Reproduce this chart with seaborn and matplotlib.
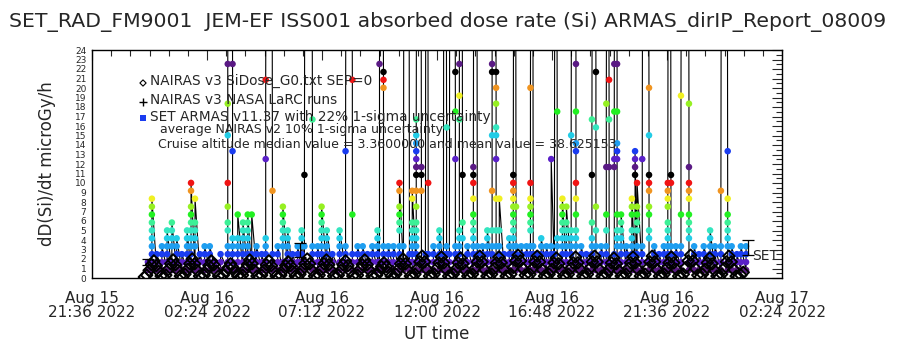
import numpy as np
import pandas as pd
import seaborn as sns
import matplotlib.pyplot as plt
import matplotlib.ticker as mticker
import matplotlib.dates as mdates

# 时间零点（x轴左端）
t0 = pd.Timestamp('2022-08-15 21:36')

# SET ARMAS 剂量台阶 (microGy/h)
step_dose = [0.84, 1.67, 2.51, 3.34, 4.18, 5.01, 5.84, 6.68, 7.51, 8.35,
             9.18, 10.01, 10.85, 11.68, 12.52, 13.35, 14.18, 15.02, 15.85,
             16.69, 17.52, 18.35, 19.19, 20.02, 20.86, 21.69, 22.53]
# 台阶颜色，13个一循环
step_colors = ['#5a1a84', '#5a20c8', '#1a3cf0', '#1e9ef0', '#22cce6',
               '#34e6c0', '#3cf096', '#22f022', '#96f022', '#f0f022',
               '#f09420', '#f01414', '#000000']

# 每一列数据点的时间（距 t0 的分钟数）和出现的台阶
col_min = [140, 150, 162, 175, 188, 200, 212, 225, 238, 248, 258, 270, 282, 295,
           308, 322, 340, 352, 365, 378, 390, 400, 412, 425, 435, 452, 465, 478,
           490, 502, 515, 525, 532, 552, 565, 575, 588, 602, 620, 635, 652, 665,
           678, 690, 702, 715, 720, 730, 742, 755, 770, 780, 795, 802, 812, 825,
           835, 842, 855, 870, 880, 888, 895, 910, 920, 928, 940, 955, 965, 978,
           990, 1002, 1012, 1020, 1032, 1045, 1055, 1062, 1075, 1088, 1098, 1105,
           1115, 1125, 1138, 1150, 1158, 1165, 1178, 1188, 1200, 1212, 1225, 1238,
           1252, 1262, 1275, 1288, 1295, 1308, 1315, 1325, 1338, 1352, 1360, 1365,
           1378, 1395, 1408, 1420, 1432, 1442, 1450, 1462, 1475, 1495, 1508, 1520,
           1532, 1548, 1560, 1575, 1592, 1602, 1615, 1625, 1638]
col_steps = [
    [0, 1], [0, 1, 2, 3, 4, 5, 6, 7, 8, 9], [0, 1, 2], [0, 1, 2, 3],
    [0, 1, 2, 3, 4, 5], [0, 1, 3, 4, 5, 6], [0, 1, 2, 3, 4], [0, 1, 2],
    [0, 1, 2, 3, 4, 5], [0, 1, 2, 3, 4, 5, 6, 7, 8, 10, 11], [0, 1, 3, 4, 5, 6, 9],
    [0, 1, 2], [0, 1, 2, 3], [0, 1, 2, 3], [0, 1], [0, 1, 2],
    [0, 1, 2, 3, 5, 6, 8, 11, 17, 21, 26], [26, 15, 4, 3, 2, 1, 0],
    [0, 1, 2, 3, 4, 7], [0, 1, 2, 3, 4, 5, 6], [0, 1, 2, 3, 4, 5, 6, 7], [0, 1, 2, 7],
    [0, 1, 2, 3], [0, 1, 2], [0, 1, 2, 3, 4, 14, 24], [10, 2, 1, 0],
    [0, 1, 2, 3], [0, 1, 3, 4, 5, 6, 7, 8], [0, 1, 2, 3, 4, 5], [0, 1, 2],
    [0, 1, 2, 3], [0, 1, 2, 3, 4, 5], [0, 1, 3, 12], [19, 3, 2, 1, 0],
    [0, 1, 2, 3], [0, 1, 2, 3, 4, 5, 6, 7, 8], [0, 1, 2, 3, 4, 5], [0, 1, 2],
    [0, 1, 2, 3, 4, 5], [0, 1, 2, 3, 15], [24, 7, 2, 1, 0], [0, 1, 2, 3],
    [0, 1, 2, 3], [0, 1, 2], [0, 1, 2, 3], [0, 1, 2, 3, 4, 5],
    [0, 1, 26], [25, 24, 23, 3, 2, 1, 0], [0, 1, 2, 3], [0, 1, 2, 3],
    [0, 1, 2, 3, 5, 6, 7, 8, 10, 11], [0, 1, 3], [2, 1, 0],
    [0, 1, 2, 3, 4, 5, 6, 9, 10],
    [0, 1, 2, 3, 4, 5, 6, 8, 10, 12, 13, 14, 15, 16, 17, 19], [13, 12, 10, 1, 0],
    [0, 1, 2], [11, 2, 1, 0], [0, 1, 2, 3], [0, 1, 2, 3, 4, 5],
    [0, 1, 2], [18, 3, 2, 1, 0], [0, 1, 2], [25, 20, 14, 3, 2, 1, 0],
    [0, 1, 2, 3, 4, 5, 19, 22, 26], [12, 6, 4, 1, 0], [0, 1, 2, 3],
    [0, 1, 2, 3, 4, 5, 6, 7, 9, 11, 12, 13], [3, 2, 1, 0], [0, 1, 2, 3],
    [0, 1, 2, 3, 4, 5], [0, 1, 2, 3, 5, 10, 17, 25, 26],
    [25, 23, 21, 18, 17, 14, 9, 5, 3, 1, 0], [0, 1, 2, 3, 5, 9], [0, 1, 2],
    [0, 1, 2, 3, 4], [0, 1, 2, 3, 4, 5, 6, 7, 8, 9, 10, 11, 12], [8, 3, 2, 1, 0],
    [0, 1, 2, 3], [0, 1, 2, 3], [0, 1, 2, 3, 5, 6, 7, 8, 9, 11, 23], [3, 2, 1, 0],
    [0, 1, 2], [0, 1, 2, 3, 4], [0, 1, 2, 3], [0, 1, 2, 3, 14],
    [0, 1, 2], [20, 4, 3, 1, 0], [0, 1, 2, 3, 4, 5, 6, 7, 8, 9],
    [0, 1, 2, 3, 4, 5, 6, 8], [0, 1, 2, 3, 4, 5, 17],
    [26, 20, 16, 15, 11, 9, 7, 5, 4, 3, 1, 0], [0, 1, 2, 3], [0, 1, 2],
    [0, 1, 2, 3, 4, 6, 12, 19], [25, 18, 8, 5, 3, 1, 0], [0, 1, 2, 3],
    [0, 1, 2, 3, 5, 7, 13, 21], [24, 19, 13, 1, 0], [0, 1, 2, 13, 14, 20, 26],
    [26, 20, 16, 15, 14, 7, 5, 4, 3, 1, 0], [0, 1, 2, 3, 4, 5, 6, 7], [0, 1, 2, 3],
    [0, 1, 2, 3, 4, 5, 7, 8, 9], [0, 1, 2, 12, 13, 14, 15],
    [0, 1, 2, 3, 5, 6, 7, 8, 11], [0, 1, 2, 3, 14],
    [23, 17, 12, 11, 10, 8, 7, 5, 4, 1, 0], [0, 1, 2, 3], [0, 1, 2], [0, 1, 2, 3],
    [0, 1, 2, 3, 4, 5, 6, 8, 9, 10, 11], [12, 11, 3, 2, 1, 0], [0, 1, 2, 3],
    [0, 1, 2, 3, 7, 22], [21, 13, 11, 10, 9, 7, 6, 5, 4, 1, 0], [0, 1, 2, 3],
    [0, 1, 2], [0, 1, 2, 3], [0, 1, 2, 3, 4, 5], [0, 1, 2, 3],
    [0, 1, 2, 3, 10], [15, 9, 7, 6, 5, 4, 3, 1, 0], [0, 1, 2, 3], [0, 1, 2],
    [0, 1, 2, 3], [0, 1, 2, 3]]

# 超出量程的尖峰（SAA 穿越）
spike_min = [341, 351, 436, 451, 533, 551, 636, 651, 721, 729, 781, 794, 813, 824,
             836, 841, 881, 887, 896, 909, 921, 927, 956, 964, 1003, 1011, 1056,
             1061, 1099, 1104, 1159, 1164, 1201, 1211, 1253, 1261, 1289, 1294,
             1309, 1314, 1379, 1394, 1443, 1449, 1476, 1494, 1576, 1591]
spike_dose = [40] * len(spike_min)

# NAIRAS v3 模型，6 分钟一个点，从 t0+131 分钟开始
nairas_dose = [
    0.1, 0.3, 0.8, 1.4, 1.8, 1.3, 0.7, 0.2,
    0.1, 0.3, 0.9, 1.5, 1.9, 1.4, 0.8, 0.2,
    0.1, 0.4, 0.9, 1.5, 2.0, 1.5, 0.8, 0.2,
    0.1, 0.3, 0.8, 1.3, 1.8, 1.4, 0.7, 0.2,
    0.1, 0.3, 0.7, 1.1, 1.5, 1.1, 0.6, 0.2,
    0.1, 0.3, 0.9, 1.4, 1.9, 1.5, 0.8, 0.2,
    0.1, 0.3, 0.8, 1.4, 1.8, 1.3, 0.7, 0.2,
    0.1, 0.3, 0.8, 1.3, 1.7, 1.3, 0.7, 0.2,
    0.1, 0.4, 0.9, 1.5, 2.0, 1.5, 0.8, 0.2,
    0.1, 0.3, 0.9, 1.5, 1.9, 1.4, 0.8, 0.2,
    0.1, 0.3, 0.8, 1.4, 1.8, 1.3, 0.7, 0.2,
    0.1, 0.3, 0.9, 1.4, 1.9, 1.4, 0.8, 0.2,
    0.1, 0.3, 0.7, 1.2, 1.6, 1.2, 0.6, 0.2,
    0.1, 0.4, 0.9, 1.5, 2.0, 1.5, 0.8, 0.2,
    0.1, 0.4, 1.0, 1.7, 2.3, 1.7, 0.9, 0.2,
    0.1, 0.4, 1.0, 1.6, 2.2, 1.6, 0.9, 0.2,
    0.1, 0.4, 0.9, 1.6, 2.1, 1.5, 0.8, 0.2,
    0.1, 0.4, 1.0, 1.7, 2.3, 1.7, 0.9, 0.2,
    0.1, 0.4, 1.0, 1.6, 2.2, 1.6, 0.9, 0.2,
    0.1, 0.4, 1.1, 1.8, 2.4, 1.8, 1.0, 0.3,
    0.1, 0.4, 1.0, 1.7, 2.3, 1.7, 0.9, 0.2,
    0.1, 0.4, 0.9, 1.6, 2.1, 1.5, 0.8, 0.2,
    0.1, 0.4, 1.0, 1.6, 2.2, 1.6, 0.9, 0.2,
    0.1, 0.4, 1.0, 1.7, 2.3, 1.7, 0.9, 0.2,
    0.1, 0.4, 0.9, 1.6, 2.1, 1.5, 0.8, 0.2,
    0.1, 0.4, 1.0, 1.6, 2.2, 1.6, 0.9, 0.2,
    0.1, 0.4, 1.0, 1.7, 2.3, 1.7, 0.9, 0.2,
    0.1, 0.4, 1.0, 1.6, 2.2, 1.6, 0.9, 0.2,
    0.1, 0.4, 1.1, 1.8, 2.4, 1.8, 1.0, 0.3,
    0.1, 0.4, 0.9, 1.6, 2.1, 1.5, 0.8, 0.2,
    0.1, 0.4, 1.0, 1.7, 2.3, 1.7, 0.9, 0.2,
    0.1, 0.3, 0.6]
nairas_start = 131
nairas_step = 6

# 不确定度误差棒
err_min = [140, 522, 1642]
err_val = [1.7, 2.95, 3.2]
err_sig = [0.3, 0.75, 0.8]

# 整理数据
pts_min, pts_step = [], []
for m, steps in zip(col_min, col_steps):
    for s in steps:
        pts_min.append(m)
        pts_step.append(s)
set_df = pd.DataFrame({'min': pts_min, 'step': pts_step})
set_df['dose'] = np.array(step_dose)[set_df['step']]
set_df['colour'] = set_df['step'] % 13
set_df['time'] = t0 + pd.to_timedelta(set_df['min'], unit='min')

spk = pd.DataFrame({'min': spike_min, 'dose': spike_dose})
line_df = pd.concat([set_df[['min', 'dose']], spk]).sort_values('min', kind='stable')
line_df['time'] = t0 + pd.to_timedelta(line_df['min'], unit='min')

nai_df = pd.DataFrame({'dose': nairas_dose})
nai_df['time'] = t0 + pd.to_timedelta(nairas_start + nairas_step * np.arange(len(nairas_dose)), unit='min')

# 绘图
sns.set_style('white')
plt.rcParams['font.family'] = ['DejaVu Sans']
fig = plt.figure(figsize=(9, 3.5), dpi=100)
ax = fig.add_axes([92 / 900, 72 / 350, 690 / 900, 228 / 350])

sns.lineplot(data=line_df, x='time', y='dose', sort=False, estimator=None,
             color='black', lw=0.8, ax=ax, zorder=2)
sns.scatterplot(data=set_df, x='time', y='dose', hue='colour',
                palette=dict(enumerate(step_colors)), s=22, linewidth=0,
                legend=False, ax=ax, zorder=3)
sns.scatterplot(data=nai_df, x='time', y='dose', marker='D', s=34,
                facecolor='none', edgecolor='black', linewidth=1.4,
                ax=ax, zorder=4)
err_t = t0 + pd.to_timedelta(err_min, unit='min')
ax.errorbar(err_t, err_val, yerr=err_sig, fmt='none', ecolor='black',
            elinewidth=0.9, capsize=4, capthick=0.9, zorder=5)

# 坐标轴
xmin = mdates.date2num(t0)
xmax = mdates.date2num(t0 + pd.Timedelta(hours=28.8))
ax.set_xlim(xmin, xmax)
ax.set_ylim(0, 24)
major = [mdates.date2num(t0 + pd.Timedelta(minutes=288 * k)) for k in range(7)]
minor = [mdates.date2num(t0 + pd.Timedelta(minutes=48 * k)) for k in range(37)]
ax.xaxis.set_major_locator(mticker.FixedLocator(major))
ax.xaxis.set_minor_locator(mticker.FixedLocator(minor))
ax.xaxis.set_major_formatter(mdates.DateFormatter('%b %d\n%H:%M %Y'))
ax.yaxis.set_major_locator(mticker.MultipleLocator(1))
ax.yaxis.set_minor_locator(mticker.MultipleLocator(0.5))
ax.tick_params(which='both', direction='in', top=True, right=True, width=0.8)
ax.tick_params(which='major', length=7)
ax.tick_params(which='minor', length=4)
ax.tick_params(axis='x', which='major', labelsize=11, pad=9)
ax.tick_params(axis='y', which='major', labelsize=6.5, pad=4)
for lab in ax.get_xticklabels():
    lab.set_horizontalalignment('center')
    lab.set_linespacing(0.95)
for sp in ax.spines.values():
    sp.set_linewidth(1)
    sp.set_color('black')
ax.set_xlabel('UT time', fontsize=12, labelpad=4)
ax.set_ylabel('dD(Si)/dt microGy/h', fontsize=12, labelpad=14)

# 标题和说明文字
fig.text(0.497, 1 - 22 / 350,
         'SET_RAD_FM9001  JEM-EF ISS001 absorbed dose rate (Si) ARMAS_dirIP_Report_08009',
         ha='center', va='center', fontsize=14.7)
fs = 9.8
fig.text(150 / 900, 1 - 81 / 350, 'NAIRAS v3 SiDose_G0.txt SEP=0', fontsize=fs, va='center')
fig.text(150 / 900, 1 - 100 / 350, 'NAIRAS v3 NASA LaRC runs', fontsize=fs, va='center')
fig.text(150 / 900, 1 - 117 / 350, 'SET ARMAS v11.37 with 22% 1-sigma uncertainty',
         fontsize=fs, va='center')
fig.text(160 / 900, 1 - 130 / 350, 'average NAIRAS v2 10% 1-sigma uncertainty',
         fontsize=9, va='center')
fig.text(158 / 900, 1 - 144 / 350,
         'Cruise altitude median value = 3.3600000 and mean value = 38.625153',
         fontsize=9, va='center')
fig.text(752 / 900, 1 - 256 / 350, 'SET', fontsize=10, va='center')
ax.scatter([143 / 900], [1 - 83 / 350], transform=fig.transFigure, marker='D', s=10,
           facecolor='none', edgecolor='black', linewidth=0.8, clip_on=False)
ax.scatter([143 / 900], [1 - 102 / 350], transform=fig.transFigure, marker='+', s=30,
           color='black', linewidth=1, clip_on=False)
ax.scatter([143 / 900], [1 - 118 / 350], transform=fig.transFigure, marker='s', s=14,
           color='#1a3cf0', linewidth=0, clip_on=False)

fig.savefig('out.png', dpi=100)
